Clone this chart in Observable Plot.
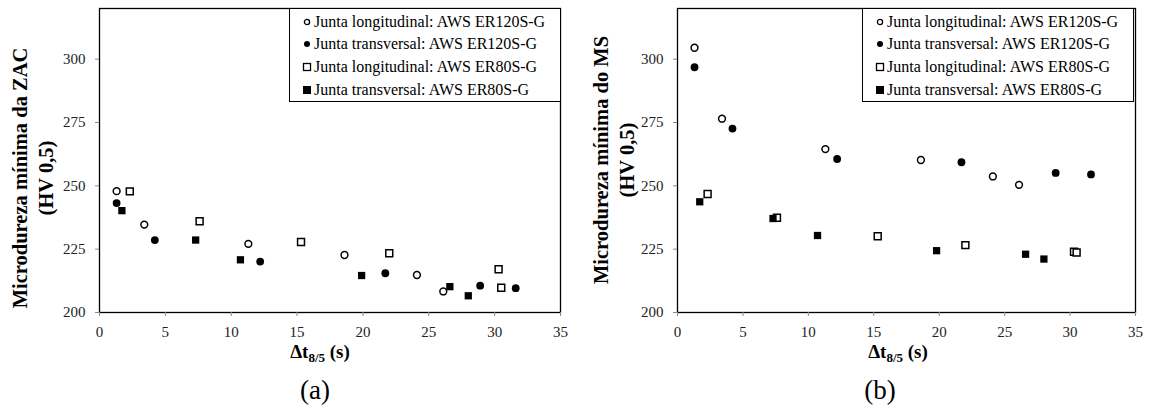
<!DOCTYPE html>
<html><head><meta charset="utf-8">
<script src="https://cdn.jsdelivr.net/npm/d3@7"></script>
<script src="https://cdn.jsdelivr.net/npm/@observablehq/plot@0.6"></script>
<style>
body{margin:0;background:#fff;width:1151px;height:409px;position:relative;overflow:hidden;font-family:"Liberation Serif","Times New Roman",serif;color:#000;}
.panel{position:absolute;top:0;}
.ytitle{position:absolute;transform:translate(-50%,-50%) rotate(-90deg);white-space:nowrap;text-align:center;font-weight:bold;font-size:20.5px;line-height:26px;}
.xtitle{position:absolute;transform:translate(-50%,-50%);font-weight:bold;font-size:19px;white-space:nowrap;}
.xtitle sub{font-size:13px;vertical-align:-4px;line-height:0;}
.caption{position:absolute;transform:translate(-50%,-50%);font-size:27px;white-space:nowrap;}
.legend{position:absolute;top:8px;width:272px;height:94px;border:1.5px solid #000;box-sizing:border-box;background:#fff;font-size:16px;}
.legend .row{position:absolute;left:0;height:20px;line-height:20px;white-space:nowrap;}
.legend svg{position:absolute;left:12px;top:5px;}
.legend span{position:absolute;left:24px;top:0;}
</style>
</head><body>
<div id="root"></div>
<script>
// ---- data ----
const seriesNames = [
  "Junta longitudinal: AWS ER120S-G",
  "Junta transversal: AWS ER120S-G",
  "Junta longitudinal: AWS ER80S-G",
  "Junta transversal: AWS ER80S-G"
];
const xTicks = [0, 5, 10, 15, 20, 25, 30, 35];
const yTicks = [200, 225, 250, 275, 300];

// Panel (a): ZAC
const zacLongER120_x = [1.3, 3.4, 11.3, 18.6, 24.1, 26.1];
const zacLongER120_y = [247.9, 234.7, 227.1, 222.7, 214.8, 208.3];
const zacTransER120_x = [1.3, 4.2, 12.2, 21.7, 28.9, 31.6];
const zacTransER120_y = [243.2, 228.6, 220.1, 215.5, 210.6, 209.6];
const zacLongER80_x = [2.3, 7.6, 15.3, 22.0, 30.3, 30.5];
const zacLongER80_y = [247.8, 236.0, 227.8, 223.4, 217.1, 209.8];
const zacTransER80_x = [1.7, 7.3, 10.7, 19.9, 26.6, 28.0];
const zacTransER80_y = [240.2, 228.6, 220.8, 214.6, 210.2, 206.6];

// Panel (b): MS
const msLongER120_x = [1.3, 3.4, 11.3, 18.6, 24.1, 26.1];
const msLongER120_y = [304.5, 276.5, 264.5, 260.2, 253.7, 250.4];
const msTransER120_x = [1.3, 4.2, 12.2, 21.7, 28.9, 31.6];
const msTransER120_y = [296.8, 272.6, 260.6, 259.3, 255.1, 254.5];
const msLongER80_x = [2.3, 7.6, 15.3, 22.0, 30.3, 30.5];
const msLongER80_y = [246.8, 237.4, 230.1, 226.6, 224.0, 223.7];
const msTransER80_x = [1.7, 7.3, 10.7, 19.8, 26.6, 28.0];
const msTransER80_y = [243.7, 237.1, 230.4, 224.4, 223.0, 221.1];

const yTitleA = ["Microdureza mínima da ZAC", "(HV 0,5)"];
const yTitleB = ["Microdureza mínima do MS", "(HV 0,5)"];
const captions = ["(a)", "(b)"];

// ---- rendering ----
const styles = [
  {symbol: "circle", fill: "white", stroke: "black", r: 3.4},
  {symbol: "circle", fill: "black", stroke: "none", r: 3.9},
  {symbol: "square", fill: "white", stroke: "black", r: 3.9},
  {symbol: "square", fill: "black", stroke: "none", r: 4.1}
];

function rows(xs, ys, name) { return xs.map((x, i) => ({x, y: ys[i], series: name})); }

function makePanel(seriesXY, marginLeft) {
  const marks = [
    Plot.frame({stroke: "#000", strokeWidth: 1.3}),
    Plot.axisX({ticks: xTicks, tickSize: 4, tickPadding: 10, label: null, stroke: "#888", fontSize: 15}),
    Plot.axisY({ticks: yTicks, tickSize: 4, tickPadding: 10, label: null, stroke: "#888", fontSize: 15})
  ];
  seriesXY.forEach(([xs, ys], i) => {
    const s = styles[i];
    marks.push(Plot.dot(rows(xs, ys, seriesNames[i]), {
      x: "x", y: "y", symbol: s.symbol, r: s.r, fill: s.fill, stroke: s.stroke, strokeWidth: 1.5
    }));
  });
  return Plot.plot({
    width: 575, height: 345,
    marginLeft, marginRight: 15, marginTop: 8, marginBottom: 33,
    style: {fontFamily: "'Liberation Serif', 'Times New Roman', serif", fontSize: "15px", color: "#222", background: "transparent", overflow: "visible"},
    x: {domain: [0, 35], ticks: xTicks},
    y: {domain: [200, 320], ticks: yTicks},
    marks
  });
}

function legendBox(left) {
  const box = document.createElement("div");
  box.className = "legend";
  box.style.left = left + "px";
  const centers = [12.5, 35, 58, 80.5];
  seriesNames.forEach((name, i) => {
    const row = document.createElement("div");
    row.className = "row";
    row.style.top = (centers[i] - 10) + "px";
    const s = styles[i];
    const shape = s.symbol === "circle"
      ? `<circle cx="5" cy="5" r="${s.fill === "white" ? 2.6 : 3}" fill="${s.fill}" stroke="${s.stroke}" stroke-width="1.3"/>`
      : `<rect x="${s.fill === "white" ? 1.5 : 1}" y="${s.fill === "white" ? 1.5 : 1}" width="${s.fill === "white" ? 7 : 8}" height="${s.fill === "white" ? 7 : 8}" fill="${s.fill}" stroke="${s.stroke}" stroke-width="1.3"/>`;
    row.innerHTML = `<svg width="10" height="10">${shape}</svg><span>${name}</span>`;
    box.appendChild(row);
  });
  return box;
}

function addDiv(cls, html, x, y) {
  const d = document.createElement("div");
  d.className = cls; d.innerHTML = html;
  d.style.left = x + "px"; d.style.top = y + "px";
  document.body.appendChild(d);
}

const pA = document.createElement("div"); pA.className = "panel"; pA.style.left = "0px";
pA.appendChild(makePanel([
  [zacLongER120_x, zacLongER120_y], [zacTransER120_x, zacTransER120_y],
  [zacLongER80_x, zacLongER80_y], [zacTransER80_x, zacTransER80_y]
], 99));
document.body.appendChild(pA);

const pB = document.createElement("div"); pB.className = "panel"; pB.style.left = "575px";
pB.appendChild(makePanel([
  [msLongER120_x, msLongER120_y], [msTransER120_x, msTransER120_y],
  [msLongER80_x, msLongER80_y], [msTransER80_x, msTransER80_y]
], 102));
document.body.appendChild(pB);

document.body.appendChild(legendBox(289));
document.body.appendChild(legendBox(862));

addDiv("ytitle", yTitleA.join("<br>"), 33, 178);
addDiv("ytitle", yTitleB.join("<br>"), 614, 160);
addDiv("xtitle", "Δt<sub>8/5</sub> (s)", 320, 352);
addDiv("xtitle", "Δt<sub>8/5</sub> (s)", 898, 352);
addDiv("caption", captions[0], 315, 390);
addDiv("caption", captions[1], 880, 390);
</script>
</body></html>
